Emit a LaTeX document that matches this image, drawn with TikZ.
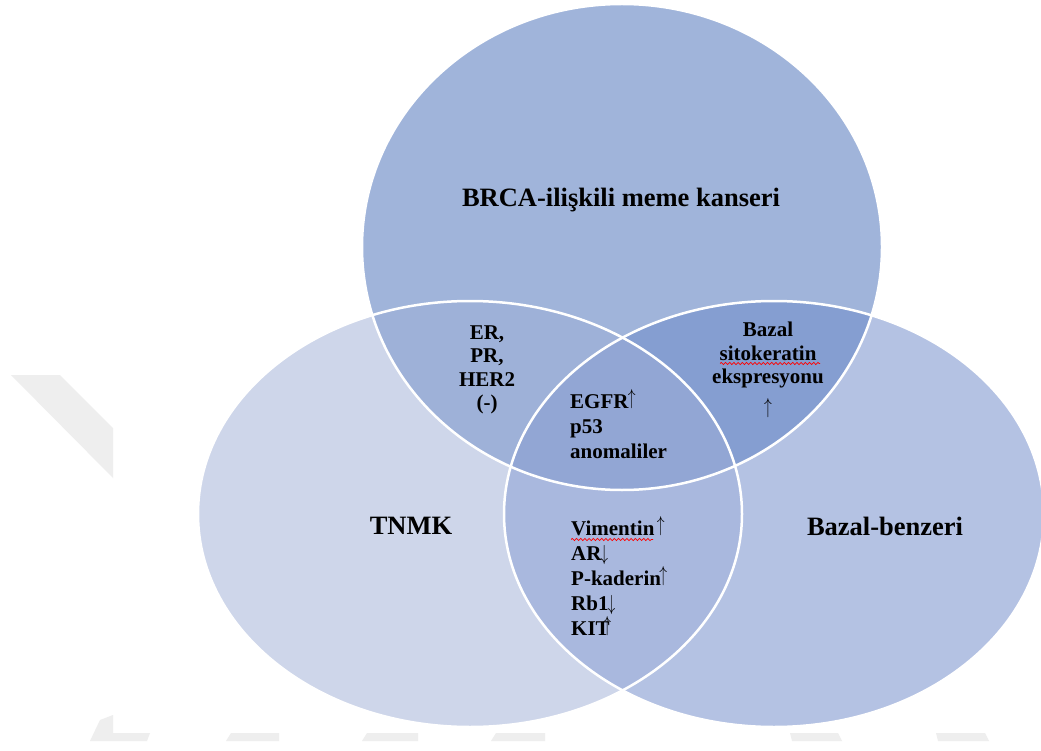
\documentclass[tikz,border=0pt]{standalone}
\usepackage{graphicx}
\usepackage{fontspec}
\setmainfont{Liberation Serif}
\usetikzlibrary{decorations.pathmorphing}
% tall, thin arrows as in the source document (smashed, so line spacing is kept)
\newcommand\up{\smash{\raisebox{0.19em}{\scalebox{0.75}[1.05]{$\uparrow$}}}}
\newcommand\dn{\smash{\raisebox{0.02em}{\scalebox{0.75}[1.05]{$\downarrow$}}}}
\newcommand\uplow{\smash{\raisebox{-0.3em}{\scalebox{0.75}[1.05]{$\uparrow$}}}}

\definecolor{topc}{RGB}{160,180,218}
\definecolor{leftc}{RGB}{206,214,234}
\definecolor{rightc}{RGB}{180,194,227}
\definecolor{tlc}{RGB}{158,177,216}
\definecolor{trc}{RGB}{133,158,209}
\definecolor{ctrc}{RGB}{146,166,212}
\definecolor{lrc}{RGB}{169,184,222}
\definecolor{markc}{RGB}{238,238,238}

\begin{document}
\begin{tikzpicture}[x=1pt,y=-1pt,
  biglabel/.style={font=\bfseries\fontsize{26.5}{30}\selectfont, inner sep=0pt, text=black},
  smalllabel/.style={font=\bfseries\fontsize{21}{23.5}\selectfont, inner sep=0pt, text=black},
  listlabel/.style={font=\bfseries\fontsize{21}{25}\selectfont, inner sep=0pt, text=black, align=left},
  rim/.style={draw=white, line width=2.5pt},
  squiggle/.style={draw=red, line width=0.7pt,
    decorate, decoration={snake, amplitude=1.1pt, segment length=4.2pt}}]
\clip (0,0) rectangle (1041,751);
\fill[white] (0,0) rectangle (1041,751);

% faint background marks
\fill[markc] (11,375) -- (60,375) -- (113,428) -- (113,478) -- cycle;
\fill[markc] (90,741) -- (100,720) -- (113,715) -- (113,733) -- (150,733) -- (147,741) -- cycle;
\fill[markc] (226,741) -- (231,733) -- (279,733) -- (279,741) -- cycle;
\fill[markc] (362,741) -- (367,733) -- (418,733) -- (418,741) -- cycle;
\fill[markc] (491,741) -- (496,733) -- (545,733) -- (545,741) -- cycle;
\fill[markc] (790,733) -- (838,733) -- (842,741) -- (792,741) -- cycle;
\fill[markc] (936,733) -- (985,733) -- (989,741) -- (938,741) -- cycle;

% the three sets
\def\TopSet{(622,247) ellipse [x radius=260, y radius=243]}
\def\LeftSet{(470,514) ellipse [x radius=272, y radius=213]}
\def\RightSet{(774,514) ellipse [x radius=270, y radius=213]}

\fill[leftc] \LeftSet;
\fill[rightc] \RightSet;
\fill[topc] \TopSet;
\begin{scope}
  \clip \LeftSet;
  \fill[tlc] \TopSet;
\end{scope}
\begin{scope}
  \clip \RightSet;
  \fill[trc] \TopSet;
\end{scope}
\begin{scope}
  \clip \LeftSet;
  \clip \RightSet;
  \fill[lrc] (0,0) rectangle (1041,751);
  \fill[ctrc] \TopSet;
\end{scope}
\draw[rim] \TopSet;
\draw[rim] \LeftSet;
\draw[rim] \RightSet;

% set names
\node[biglabel, anchor=base] (brca) at (621,207) {BRCA-ilişkili meme kanseri};
\node[biglabel, anchor=base] (tnmk) at (411,534) {TNMK};
\node[biglabel, anchor=base] (bazal) at (885,535) {Bazal-benzeri};

% overlap contents
\node[smalllabel, align=center, anchor=north] (receptors) at (487,325.5) {ER,\\PR,\\HER2\\(-)};
\node[smalllabel, align=center, anchor=north] (keratin) at (768,321.8) {Bazal\\sitokeratin\\ekspresyonu\\\uplow};
\node[listlabel, anchor=north west] (core) at (570,394) {EGFR\kern-0.03em\up\\p53\\anomaliler};
\node[listlabel, anchor=north west] (markers) at (571,521) {Vimentin\kern0.12em\up\\AR\kern-0.05em\dn\\P-kaderin\kern-0.08em\up\\Rb1\kern-0.05em\dn\\KIT\kern-0.3em\up};

% spell-check underlines
\coordinate (kw1) at (720,363.5);
\coordinate (kw2) at (820,363.5);
\coordinate (vw1) at (571,539.5);
\coordinate (vw2) at (653,539.5);
\draw[squiggle] (kw1) -- (kw2);
\draw[squiggle] (vw1) -- (vw2);
\end{tikzpicture}
\end{document}
